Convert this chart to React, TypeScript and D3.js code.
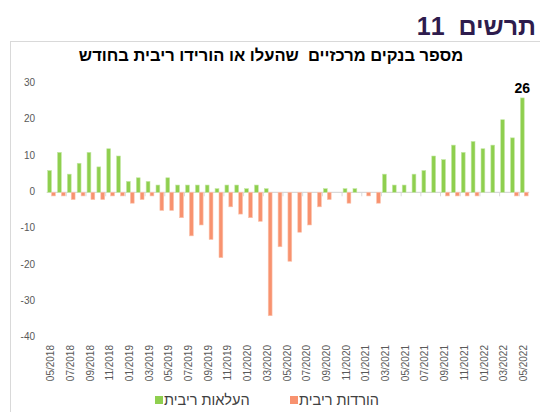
import * as d3 from 'd3';

const months = [
  '05/2018', '06/2018', '07/2018', '08/2018', '09/2018', '10/2018', '11/2018', '12/2018',
  '01/2019', '02/2019', '03/2019', '04/2019', '05/2019', '06/2019', '07/2019', '08/2019',
  '09/2019', '10/2019', '11/2019', '12/2019', '01/2020', '02/2020', '03/2020', '04/2020',
  '05/2020', '06/2020', '07/2020', '08/2020', '09/2020', '10/2020', '11/2020', '12/2020',
  '01/2021', '02/2021', '03/2021', '04/2021', '05/2021', '06/2021', '07/2021', '08/2021',
  '09/2021', '10/2021', '11/2021', '12/2021', '01/2022', '02/2022', '03/2022', '04/2022',
  '05/2022',
];

// העלאות ריבית
const hikes = [
  6, 11, 5, 8, 11, 7, 12, 10, 3, 4, 3, 2, 4, 2, 2, 2, 2, 1, 2, 2, 1, 2, 1, 0,
  0, 0, 0, 0, 1, 0, 1, 1, 0, 0, 5, 2, 2, 5, 6, 10, 9, 13, 11, 14, 12, 13, 20, 15,
  26,
];

// הורדות ריבית
const cuts = [
  -1, -1, -2, -1, -2, -2, -1, -1, -3, -2, -1, -5, -5, -7, -12, -9, -13, -18, -4, -6, -7, -8, -34, -15,
  -19, -11, -9, -4, -2, 0, -3, 0, -1, -3, 0, 0, 0, 0, 0, 0, -1, -1, -1, -1, 0, 0, 0, -1,
  -1,
];

const yTicks = [30, 20, 10, 0, -10, -20, -30, -40];

const GREEN = '#8fcf4f';
const RED = '#f8926f';
const FONT = 'Arial, "Liberation Sans", sans-serif';

export default function App() {
  const width = 540,
    height = 412;

  const xScale = d3.scaleBand<string>().domain(months).range([46.6, 529.2]).paddingInner(0.2).paddingOuter(0.1);
  const sub = d3.scaleBand<string>().domain(['up', 'down']).range([0, xScale.bandwidth()]).padding(0.02);
  const yScale = d3.scaleLinear().domain([-40, 30]).range([337.5, 83.4]);
  const y0 = yScale(0);
  const step = xScale.step();

  const bars = months.map((m, i) => {
    const x = xScale(m) ?? 0;
    return (
      <g key={m}>
        {hikes[i] !== 0 && (
          <rect
            x={x + (sub('up') ?? 0)}
            y={yScale(hikes[i])}
            width={sub.bandwidth()}
            height={y0 - yScale(hikes[i])}
            fill={GREEN}
            stroke="#c4e8a4"
            strokeWidth={0.6}
          />
        )}
        {cuts[i] !== 0 && (
          <rect
            x={x + (sub('down') ?? 0)}
            y={y0}
            width={sub.bandwidth()}
            height={yScale(cuts[i]) - y0}
            fill={RED}
            stroke="#fbc3ad"
            strokeWidth={0.6}
          />
        )}
      </g>
    );
  });

  // small tick marks every second month
  const ticks = months
    .map((m, i) => ({ m, i }))
    .filter((d) => d.i % 2 === 1 && d.i < months.length - 1)
    .map(({ m }) => {
      const tx = (xScale(m) ?? 0) + xScale.bandwidth() + (step - xScale.bandwidth()) / 2;
      return <line key={m} x1={tx} x2={tx} y1={y0} y2={y0 + 4} stroke="#d9d9d9" />;
    });

  const xLabels = months
    .filter((_, i) => i % 2 === 0)
    .map((m) => {
      const cx = (xScale(m) ?? 0) + xScale.bandwidth() / 2;
      return (
        <text
          key={m}
          transform={`translate(${cx},345) rotate(-90)`}
          textAnchor="end"
          dominantBaseline="middle"
          fontSize={10}
          fill="#595959"
          fontFamily={FONT}
        >
          {m}
        </text>
      );
    });

  const yLabels = yTicks.map((t) => (
    <text
      key={t}
      x={35}
      y={yScale(t)}
      textAnchor="end"
      dominantBaseline="middle"
      fontSize={10}
      fill="#595959"
      fontFamily={FONT}
    >
      {t}
    </text>
  ));

  const last = months.length - 1;
  const lastX = (xScale(months[last]) ?? 0) + (sub('up') ?? 0) + sub.bandwidth() / 2;

  return (
    <div style={{ position: 'absolute', left: 0, top: 0 }}>
      <svg width={width} height={height} style={{ display: 'block', background: '#fff' }}>
        <text
          x={536}
          y={35}
          textAnchor="start"
          fontSize={25}
          fontWeight="bold"
          fill="#2e1c4d"
          fontFamily={FONT}
          direction="rtl"
          style={{ whiteSpace: 'pre' }}
        >
          {'תרשים  11'}
        </text>
        <rect x={10.5} y={41.5} width={540} height={380} fill="none" stroke="#d9d9d9" />
        <text
          x={271}
          y={61}
          textAnchor="middle"
          fontSize={16.5}
          fontWeight="bold"
          fill="#000"
          fontFamily={FONT}
          style={{ whiteSpace: 'pre' }}
        >
          {'מספר בנקים מרכזיים  שהעלו או הורידו ריבית בחודש'}
        </text>
        {yLabels}
        <line x1={46.6} x2={529.2} y1={y0} y2={y0} stroke="#d9d9d9" strokeWidth={1.2} />
        {ticks}
        {bars}
        <text x={lastX} y={yScale(hikes[last]) - 5} textAnchor="middle" fontSize={14} fontWeight="bold" fill="#000" fontFamily={FONT}>
          {hikes[last]}
        </text>
        {xLabels}
        <g fontFamily={FONT} fontSize={14.5} fill="#404040">
          <rect x={155} y={396} width={8} height={8} fill={GREEN} />
          <text x={164} y={401} dominantBaseline="middle" textAnchor="start">
            העלאות ריבית
          </text>
          <rect x={290} y={396} width={8} height={8} fill={RED} />
          <text x={299} y={401} dominantBaseline="middle" textAnchor="start">
            הורדות ריבית
          </text>
        </g>
      </svg>
    </div>
  );
}
